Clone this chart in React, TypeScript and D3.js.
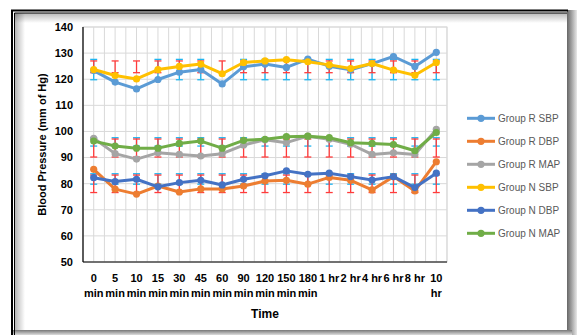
import React from "react";
import * as d3 from "d3";

const categories = ["0 min","5 min","10 min","15 min","30 min","45 min","60 min","90 min","120 min","150 min","180 min","1 hr","2 hr","4 hr","6 hr","8 hr","10 hr"];
const yTicks = [50,60,70,80,90,100,110,120,130,140];

const groupRSBP = [123.3,118.9,116.3,119.9,122.7,123.7,118.2,124.8,125.8,124.5,127.7,125.0,123.6,126.0,128.7,124.9,130.3];
const groupRDBP = [85.5,77.9,76.0,79.1,76.8,78.0,78.0,79.1,81.0,81.3,79.8,82.4,81.3,77.6,82.7,77.2,88.4];
const groupRMAP = [97.4,91.5,89.4,91.8,91.2,90.6,91.5,94.8,96.8,95.7,98.2,97.0,95.1,91.2,91.8,91.2,100.8];
const groupNSBP = [123.7,121.4,120.1,123.7,124.9,125.8,122.1,126.4,127.0,127.5,126.7,125.5,124.1,126.0,123.5,121.5,126.4];
const groupNDBP = [82.3,80.8,81.7,78.8,80.4,81.3,79.5,81.7,83.0,84.9,83.6,84.0,82.7,81.4,82.7,78.5,84.0];
const groupNMAP = [96.3,94.4,93.6,93.6,95.4,96.3,93.6,96.6,97.0,98.0,98.2,97.6,95.7,95.4,95.0,92.6,99.6];

const seriesNames = ["Group R SBP","Group R DBP","Group R MAP","Group N SBP","Group N DBP","Group N MAP"];
const seriesColors = ["#5B9BD5","#ED7D31","#A5A5A5","#FFC000","#4472C4","#70AD47"];
const seriesValues = [groupRSBP, groupRDBP, groupRMAP, groupNSBP, groupNDBP, groupNMAP];

// error bar ranges [low, high] for SBP, MAP, DBP bands
const redBarLow = [122.5, 90.2, 76.6];
const redBarHigh = [127.0, 97.1, 83.3];
const cyanBarLow = [119.8, 94.4, 79.8];
const cyanBarHigh = [127.6, 97.6, 83.8];
const cyanShownSBP = [1,0,0,1,1,1,0,1,1,1,1,1,1,1,1,1,1];

const W = 579, H = 335;
const PL = 83, PR = 447, PT = 27, PB = 262;
const FONT = "'Liberation Sans', Arial, sans-serif";

export default function App() {
  const x = d3.scalePoint<string>().domain(categories).range([PL, PR]).padding(0.5);
  const y = d3.scaleLinear().domain([50, 140]).range([PB, PT]);
  const step = x.step();
  const line = d3.line<number>().x((_, i) => x(categories[i]) as number).y(d => y(d));

  const vGrid: number[] = [];
  for (let k = 0; k <= categories.length * 2; k++) vGrid.push(PL + k * step / 2);

  const capW = 3.5;
  const bars: JSX.Element[] = [];
  [0, 1, 2].forEach(g => {
    categories.forEach((c, i) => {
      const cx = x(c) as number;
      if (g !== 0 || cyanShownSBP[i]) {
        const y1 = y(cyanBarHigh[g]), y2 = y(cyanBarLow[g]);
        bars.push(<g key={`c${g}-${i}`} stroke="#1EB4F0" strokeWidth={1.3}>
          <line x1={cx} x2={cx} y1={y1} y2={y2} />
          <line x1={cx - capW} x2={cx + capW} y1={y1} y2={y1} />
          <line x1={cx - capW} x2={cx + capW} y1={y2} y2={y2} />
        </g>);
      }
      const r1 = y(redBarHigh[g]), r2 = y(redBarLow[g]);
      bars.push(<g key={`r${g}-${i}`} stroke="#FF3B3B" strokeWidth={1.3}>
        <line x1={cx} x2={cx} y1={r1} y2={r2} />
        <line x1={cx - capW} x2={cx + capW} y1={r1} y2={r1} />
        <line x1={cx - capW} x2={cx + capW} y1={r2} y2={r2} />
      </g>);
    });
  });

  return (
    <svg width={W} height={H} style={{ position: "absolute", left: 0, top: 0, background: "#fff" }}>
      <defs>
        <linearGradient id="topShade" x1="0" y1="0" x2="0" y2="1">
          <stop offset="0" stopColor="#000" stopOpacity={0.28} />
          <stop offset="1" stopColor="#000" stopOpacity={0} />
        </linearGradient>
        <linearGradient id="leftShade" x1="0" y1="0" x2="1" y2="0">
          <stop offset="0" stopColor="#000" stopOpacity={0.28} />
          <stop offset="1" stopColor="#000" stopOpacity={0} />
        </linearGradient>
        <linearGradient id="rightShade" x1="0" y1="0" x2="1" y2="0">
          <stop offset="0" stopColor="#666" />
          <stop offset="1" stopColor="#e8e8e8" />
        </linearGradient>
        <linearGradient id="bottomShade" x1="0" y1="0" x2="0" y2="1">
          <stop offset="0" stopColor="#777" />
          <stop offset="1" stopColor="#ddd" />
        </linearGradient>
      </defs>
      {/* frame */}
      <rect x={15} y={13} width={552} height={10} fill="url(#topShade)" />
      <rect x={15} y={13} width={10} height={318} fill="url(#leftShade)" />
      <rect x={567} y={10} width={10} height={325} fill="url(#rightShade)" />
      <rect x={12} y={330} width={560} height={5} fill="url(#bottomShade)" />
      <path d="M12,335 L12,10.5 L568,10.5" fill="none" stroke="#000" strokeWidth={2} />
      <path d="M14.5,335 L14.5,13 L567,13" fill="none" stroke="#000" strokeWidth={1} />

      {/* grid */}
      {vGrid.map((gx, k) => (
        <line key={`vg${k}`} x1={gx} x2={gx} y1={PT} y2={PB} stroke="#D9D9D9" strokeWidth={1} />
      ))}
      {yTicks.map(t => (
        <line key={`hg${t}`} x1={PL} x2={PR} y1={y(t)} y2={y(t)} stroke="#D9D9D9" strokeWidth={1} />
      ))}
      <rect x={PL} y={PT} width={PR - PL} height={PB - PT} fill="none" stroke="#D9D9D9" />
      <line x1={PL} x2={PL} y1={PT} y2={PB} stroke="#000" strokeWidth={1.2} />
      <line x1={PL} x2={PR} y1={PB} y2={PB} stroke="#000" strokeWidth={1.2} />

      {/* y tick labels */}
      {yTicks.map(t => (
        <text key={`yt${t}`} x={73} y={y(t)} dy="0.35em" textAnchor="end" fontFamily={FONT} fontWeight="bold" fontSize={11} fill="#000">{t}</text>
      ))}
      {/* x tick labels */}
      {categories.map(c => {
        const parts = c.length > 4 ? c.split(" ") : [c];
        return (
          <text key={`xt${c}`} x={x(c) as number} y={282} textAnchor="middle" fontFamily={FONT} fontWeight="bold" fontSize={11} fill="#000">
            {parts.map((p, j) => <tspan key={j} x={x(c) as number} dy={j === 0 ? 0 : 14.5}>{p}</tspan>)}
          </text>
        );
      })}
      <text x={(PL + PR) / 2} y={318} textAnchor="middle" fontFamily={FONT} fontWeight="bold" fontSize={12} fill="#000">Time</text>
      <text transform={`translate(46,${(PT + PB) / 2}) rotate(-90)`} textAnchor="middle" fontFamily={FONT} fontWeight="bold" fontSize={11} fill="#000">Blood Pressure (mm of Hg)</text>

      {/* error bars */}
      {bars}

      {/* series */}
      {seriesValues.map((vals, s) => (
        <g key={`s${s}`}>
          <path d={line(vals) as string} fill="none" stroke={seriesColors[s]} strokeWidth={3} strokeLinejoin="round" />
          {vals.map((v, i) => (
            <circle key={i} cx={x(categories[i]) as number} cy={y(v)} r={3.6} fill={seriesColors[s]} />
          ))}
        </g>
      ))}

      {/* legend */}
      {seriesNames.map((n, k) => {
        const ly = 118.3 + k * 23;
        return (
          <g key={`lg${k}`}>
            <line x1={467} x2={495} y1={ly} y2={ly} stroke={seriesColors[k]} strokeWidth={3} />
            <circle cx={481} cy={ly} r={3.6} fill={seriesColors[k]} />
            <text x={498} y={ly} dy="0.35em" fontFamily={FONT} fontSize={10} fill="#595959">{n}</text>
          </g>
        );
      })}
    </svg>
  );
}
